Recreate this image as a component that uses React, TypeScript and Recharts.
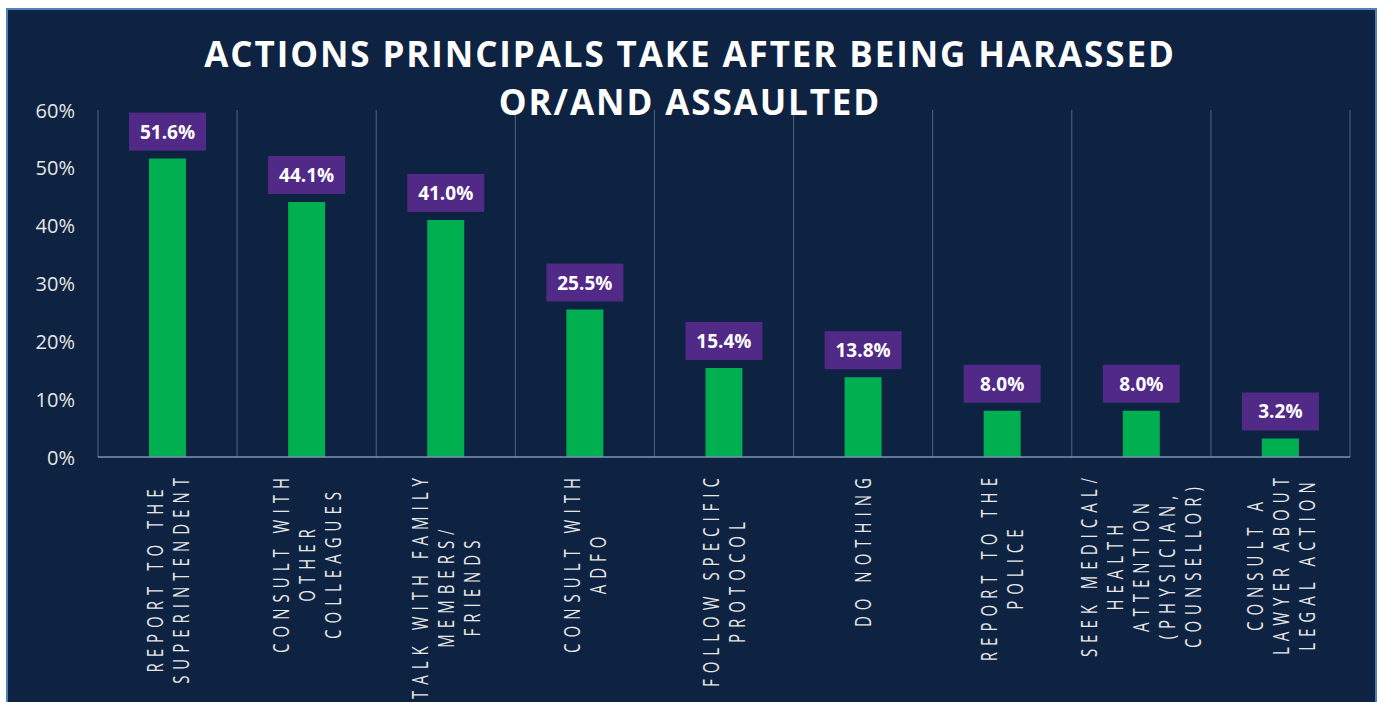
import { BarChart, Bar, XAxis, YAxis, CartesianGrid, LabelList } from 'recharts';

const categories = [
  'REPORT TO THE\nSUPERINTENDENT',
  'CONSULT WITH\nOTHER\nCOLLEAGUES',
  'TALK WITH FAMILY\nMEMBERS/\nFRIENDS',
  'CONSULT WITH\nADFO',
  'FOLLOW SPECIFIC\nPROTOCOL',
  'DO NOTHING',
  'REPORT TO THE\nPOLICE',
  'SEEK MEDICAL/\nHEALTH\nATTENTION\n(PHYSICIAN,\nCOUNSELLOR)',
  'CONSULT A\nLAWYER ABOUT\nLEGAL ACTION',
];
const values = [51.6, 44.1, 41.0, 25.5, 15.4, 13.8, 8.0, 8.0, 3.2];
const yTicks = [0, 10, 20, 30, 40, 50, 60];
const titleLines = ['ACTIONS PRINCIPALS TAKE AFTER BEING HARASSED', 'OR/AND ASSAULTED'];

const data = categories.map((category, i) => ({ category, value: values[i] }));

const NAVY = '#0E2242';
const GREEN = '#00B050';
const PURPLE = '#512A87';
const FONT = '"Open Sans", sans-serif';

const TICK_SIZE = 15;
const TICK_SPACING = 6;

let measureCtx: CanvasRenderingContext2D | null = null;
function textWidth(s: string) {
  if (!measureCtx) measureCtx = document.createElement('canvas').getContext('2d');
  if (!measureCtx) return s.length * 15;
  measureCtx.font = `${TICK_SIZE}px "Open Sans"`;
  return measureCtx.measureText(s).width + TICK_SPACING * (s.length - 1);
}

// multi-line rotated category label, lines centred on each other
function CategoryTick(props: any) {
  const { x, y, payload } = props;
  const lines: string[] = String(payload.value).split('\n');
  const longest = Math.max(...lines.map(textWidth));
  const top = y + 10;
  const cy = top + longest / 2;
  return (
    <g>
      {lines.map((line, i) => {
        const lx = x + (i - (lines.length - 1) / 2) * 26;
        return (
          <text
            key={i}
            transform={`translate(${lx},${cy}) rotate(-90) scale(1,1.4)`}
            textAnchor="middle"
            dominantBaseline="central"
            fill="#E6E6E6"
            fontFamily={FONT}
            fontSize={TICK_SIZE}
            letterSpacing={TICK_SPACING}
          >
            {line}
          </text>
        );
      })}
    </g>
  );
}

function ValueTick(props: any) {
  const { y, payload } = props;
  return (
    <text x={75} y={y} textAnchor="end" dominantBaseline="central" fill="#E6E6E6" fontFamily={FONT} fontSize={20}>
      {`${payload.value}%`}
    </text>
  );
}

function ValueLabel(props: any) {
  const { x, y, width, value } = props;
  const cx = x + width / 2;
  const boxW = 77;
  const boxH = 38;
  const boxY = y - 8 - boxH;
  return (
    <g>
      <rect x={cx - boxW / 2} y={boxY} width={boxW} height={boxH} fill={PURPLE} />
      <text
        x={cx}
        y={boxY + boxH / 2}
        textAnchor="middle"
        dominantBaseline="central"
        fill="#FFFFFF"
        fontFamily={FONT}
        fontWeight={700}
        fontSize={19}
      >
        {`${Number(value).toFixed(1)}%`}
      </text>
    </g>
  );
}

export default function App() {
  const n = categories.length;
  return (
    <div style={{ position: 'fixed', left: 0, top: 0, width: 1380, height: 702, background: '#FFFFFF', overflow: 'hidden' }}>
      <div
        style={{
          position: 'absolute',
          left: 6,
          top: 8,
          width: 1367,
          height: 720,
          background: NAVY,
          border: '2px solid #4F81BD',
        }}
      />
      <div style={{ position: 'absolute', left: 0, top: 0 }}>
        <BarChart width={1380} height={702} data={data} margin={{ top: 110, right: 30, bottom: 0, left: 20 }}>
          <CartesianGrid
            horizontal={false}
            stroke="#4A5B78"
            strokeWidth={1.2}
            verticalCoordinatesGenerator={({ offset }: any) =>
              Array.from({ length: n + 1 }, (_, i) => offset.left + (i * offset.width) / n)
            }
          />
          <XAxis
            dataKey="category"
            interval={0}
            height={245}
            tickLine={false}
            axisLine={{ stroke: '#7F93B5', strokeWidth: 1.5 }}
            tick={<CategoryTick />}
          />
          <YAxis
            type="number"
            domain={[0, 60]}
            ticks={yTicks}
            width={78}
            axisLine={false}
            tickLine={false}
            tick={<ValueTick />}
          />
          <Bar dataKey="value" fill={GREEN} barSize={37} isAnimationActive={false}>
            <LabelList dataKey="value" content={<ValueLabel />} />
          </Bar>
        </BarChart>
      </div>
      <svg width={1380} height={702} style={{ position: 'absolute', left: 0, top: 0, pointerEvents: 'none' }}>
        {titleLines.map((line, i) => (
          <text
            key={i}
            x={690}
            y={67 + i * 48}
            textAnchor="middle"
            fill="#FFFFFF"
            fontFamily={FONT}
            fontWeight={700}
            fontSize={35}
            letterSpacing={1.9}
          >
            {line}
          </text>
        ))}
      </svg>
    </div>
  );
}
